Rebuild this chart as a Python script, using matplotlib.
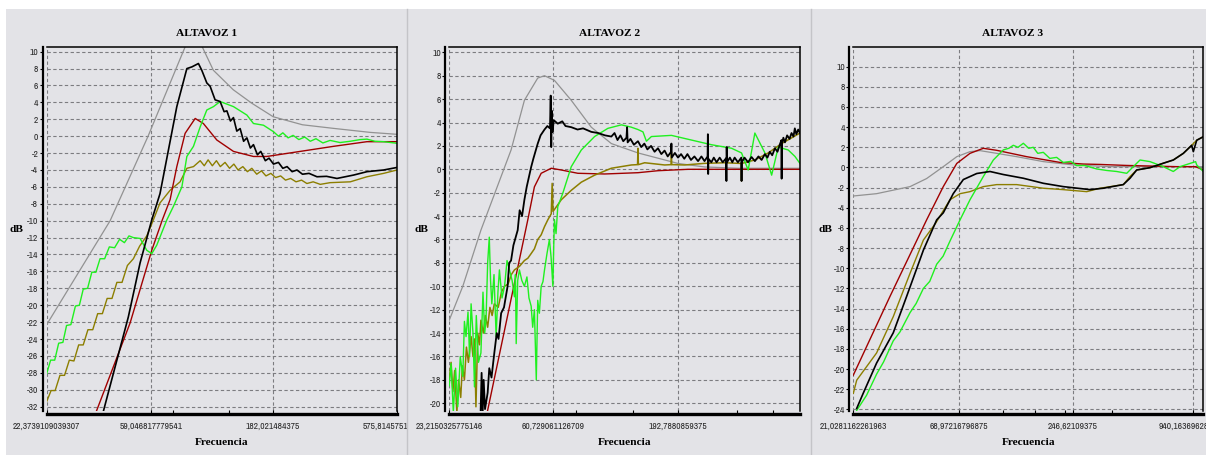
import numpy as np
import matplotlib
matplotlib.use("Agg")
import matplotlib.pyplot as plt
from matplotlib import font_manager
from matplotlib.lines import Line2D
from matplotlib.patches import Rectangle
from matplotlib.ticker import NullFormatter
from matplotlib.transforms import Bbox, TransformedBbox

# ---------------- datos ----------------
# ALTAVOZ 1
f1_gris = [22.37, 40.3, 57.3, 79.3, 86.2, 94.6, 105.0, 126.2, 150.0, 182.9, 240.0, 319.0, 450.0, 578.0]
db1_gris = [-22.3, -10.0, 0.0, 10.0, 12.5, 10.6, 7.8, 5.5, 3.9, 2.3, 1.35, 0.93, 0.45, 0.22]

f1_rojo = [35.0, 48.5, 59.3, 65.4, 70.3, 74.8, 80.8, 88.7, 95.7, 108.4, 126.5, 152.3, 172.4, 234.9, 320.1, 436.4, 576.7]
db1_rojo = [-33.0, -22.1, -13.5, -9.9, -7.5, -3.6, 0.34, 2.1, 1.5, -0.45, -1.8, -2.4, -2.4, -1.8, -1.2, -0.65, -0.65]

f1_verde = [22.37, 23.2, 24.1, 25.0, 26.0, 26.9, 28.0, 29.2, 30.3, 31.4, 32.7, 34.0, 35.3, 36.7, 38.3,
            40.0, 42.0, 44.0, 46.0, 48.0, 50.0, 53.2, 56.6, 59.3, 62.1, 68.2, 72.5, 78.4, 82.1, 87.3,
            92.9, 98.8, 105.1, 111.8, 126.5, 143.3, 152.3, 167.1, 183.4, 192.0, 200.0, 210.0, 220.0,
            232.0, 245.0, 258.0, 272.0, 290.0, 310.0, 340.0, 373.8, 410.0, 436.4, 470.0, 509.0, 576.7]
db1_verde = [-28.1, -26.5, -26.5, -24.5, -24.4, -22.4, -22.3, -20.1, -20.0, -18.1, -18.0, -16.1, -16.1, -14.5, -14.5,
             -13.1, -13.2, -12.2, -12.6, -11.8, -12.0, -12.1, -13.5, -13.9, -12.9, -9.9, -8.3, -6.0, -2.4, -1.2,
             1.1, 3.1, 3.5, 4.1, 3.5, 2.5, 1.5, 1.3, 0.53, 0.0, 0.4, -0.2, 0.1,
             -0.4, -0.1, -0.6, -0.3, -0.8, -0.5, -0.75, -0.6, -0.4, -0.35, -0.6, -0.65, -0.84]

f1_oliva = [22.37, 23.3, 24.2, 25.3, 26.4, 27.6, 28.8, 30.1, 31.4, 32.8, 34.3, 35.9, 37.5, 39.2, 41.0,
            42.9, 45.0, 47.3, 50.0, 53.0, 56.6, 60.2, 64.0, 70.3, 77.1, 82.1, 87.3, 92.9, 96.5, 100.0,
            104.0, 108.0, 112.0, 117.0, 122.0, 127.0, 132.0, 138.0, 144.0, 150.0, 157.0, 164.0, 171.0,
            179.0, 187.0, 196.0, 205.0, 215.0, 226.0, 238.0, 250.0, 265.0, 283.0, 310.0, 373.8, 436.4,
            509.4, 576.7]
db1_oliva = [-31.4, -30.1, -30.1, -28.3, -28.3, -26.5, -26.6, -24.7, -24.7, -22.9, -22.9, -21.0, -21.0, -19.2, -19.2,
             -17.3, -17.3, -15.3, -14.5, -13.0, -11.8, -9.9, -7.9, -6.4, -5.4, -3.8, -3.6, -2.9, -3.5, -2.8,
             -3.5, -2.9, -3.6, -3.1, -3.8, -3.3, -4.0, -3.6, -4.2, -3.8, -4.5, -4.1, -4.7,
             -4.4, -4.9, -4.7, -5.2, -5.0, -5.4, -5.2, -5.6, -5.4, -5.7, -5.5, -5.4, -4.8,
             -4.4, -4.0]

f1_negro = [37.5, 42.2, 47.7, 53.2, 59.3, 64.0, 74.8, 82.1, 86.0, 91.4, 94.3, 98.8, 101.9, 106.7, 111.8,
            116.0, 119.0, 123.0, 126.5, 130.5, 134.6, 139.0, 143.3, 148.0, 152.3, 158.0, 163.0, 170.0,
            176.0, 183.4, 192.0, 200.0, 208.0, 218.0, 228.0, 240.0, 255.0, 274.5, 300.0, 330.4, 385.5,
            436.4, 509.4, 576.7]
db1_negro = [-33.0, -27.3, -21.4, -15.0, -9.9, -6.8, 3.5, 8.0, 8.2, 8.6, 7.8, 6.3, 5.9, 4.3, 4.1,
             2.9, 3.0, 1.8, 2.2, 0.6, 0.9, -0.6, -0.2, -1.4, -1.0, -2.2, -1.8, -2.9,
             -2.6, -3.3, -3.1, -3.8, -3.6, -4.2, -4.0, -4.5, -4.4, -4.8, -4.75, -5.0, -4.6,
             -4.2, -4.0, -3.7]

# ALTAVOZ 2
f2_gris = [23.2, 26.3, 31.1, 41.1, 46.5, 52.6, 56.0, 61.4, 71.7, 86.3, 103.9, 132.9, 192.5, 246.5, 335.7, 594.8]
db2_gris = [-12.9, -10.0, -5.2, 1.65, 5.9, 7.8, 8.0, 7.6, 5.9, 3.6, 2.2, 1.4, 0.5, 0.2, 0.09, 0.09]

f2_rojo = [32.8, 48.0, 51.0, 54.3, 59.6, 65.4, 76.2, 97.6, 132.9, 159.9, 211.3, 594.8]
db2_rojo = [-21.0, -4.3, -1.5, -0.34, 0.09, -0.06, -0.34, -0.4, -0.29, -0.12, 0.0, 0.0]

f2_verde = [23.2, 23.6, 24.1, 24.6, 25.1, 25.7, 26.3, 26.7, 27.1, 27.6, 28.0, 28.4, 28.9, 29.3, 29.8,
            30.4, 31.1, 31.7, 32.2, 32.6, 33.1, 33.6, 34.0, 34.4, 35.1, 35.8, 36.4, 36.9, 37.8, 38.7,
            39.6, 40.5, 41.5, 42.4, 42.8, 43.1, 43.7, 44.4, 45.4, 46.5, 47.6, 48.5, 49.5, 50.2, 51.0,
            51.9, 52.6, 53.4, 54.3, 55.2, 56.0, 57.3, 58.6, 59.5, 60.5, 61.0, 61.4, 62.3, 63.3, 66.3,
            71.7, 78.7, 89.0, 100.6, 114.0, 125.0, 132.9, 139.2, 143.7, 150.5, 181.1, 218.0, 262.4,
            315.7, 346.4, 368.3, 391.8, 430.0, 457.6, 486.4, 533.5, 567.6, 594.8]
db2_verde = [-18.5, -16.6, -20.8, -17.0, -20.3, -16.0, -17.7, -13.0, -14.3, -12.2, -16.0, -11.5, -14.0, -18.6, -12.5,
             -16.5, -15.7, -10.5, -14.0, -12.9, -8.0, -5.8, -9.5, -11.5, -9.0, -14.3, -10.5, -8.6, -11.0, -10.0,
             -7.8, -8.6, -9.5, -10.9, -9.0, -14.9, -9.5, -8.6, -9.5, -10.0, -9.2, -11.0, -11.7, -13.5, -12.0,
             -18.0, -11.2, -12.3, -10.0, -9.6, -8.6, -7.2, -6.0, -7.5, -10.0, -6.5, -4.3, -5.5, -3.2, -2.05,
             0.22, 1.65, 2.8, 3.5, 3.8, 3.6, 3.4, 3.2, 2.4, 2.8, 2.9, 2.5, 2.1,
             1.8, 1.4, -0.06, 3.1, 1.4, -0.5, 1.9, 1.65, 1.1, 0.5]

f2_oliva = [23.2, 23.6, 24.0, 24.4, 24.9, 25.3, 25.8, 26.2, 26.7, 27.2, 27.7, 28.4, 28.9, 29.3, 29.7,
            30.2, 30.7, 31.1, 31.8, 32.4, 33.1, 33.8, 34.5, 35.2, 36.5, 37.6, 38.7, 40.0, 41.2, 42.4,
            44.4, 46.5, 48.0, 49.5, 51.0, 52.6, 54.3, 56.0, 57.8, 59.6, 60.1, 60.6, 62.5, 65.4, 71.7,
            78.7, 89.0, 103.9, 125.0, 132.4, 132.9, 133.4, 141.4, 170.2, 180.6, 181.1, 181.6, 204.9,
            246.5, 296.9, 345.7, 346.4, 347.1, 391.8, 443.4, 501.9, 594.8]
db2_oliva = [-18.0, -16.5, -19.0, -17.2, -20.8, -18.0, -19.5, -16.8, -18.0, -15.2, -16.5, -14.3, -16.0, -14.5, -20.3,
             -14.0, -15.0, -12.9, -14.0, -12.5, -13.5, -11.8, -12.5, -11.5, -11.8, -10.5, -10.0, -9.8, -9.0, -8.6,
             -8.3, -7.8, -7.6, -7.2, -6.8, -6.0, -5.6, -4.9, -4.3, -3.8, -1.2, -3.6, -3.2, -2.6, -1.8,
             -1.1, -0.5, 0.09, 0.37, 0.4, 1.8, 0.4, 0.56, 0.37, 0.4, 1.5, 0.4, 0.37,
             0.51, 0.56, 0.5, -1.0, 0.5, 0.8, 1.4, 2.2, 3.1]

f2_negro = [31.0, 31.3, 31.6, 31.9, 32.3, 33.1, 33.6, 34.3, 35.2, 36.0, 36.6, 37.5, 38.5, 39.8, 40.4,
            41.1, 42.0, 43.7, 44.5, 45.5, 46.5, 47.5, 49.5, 50.5, 52.6, 54.0, 56.0, 57.5, 58.9, 59.3,
            59.6, 59.9, 60.3, 61.0, 63.3, 66.0, 68.0, 71.7, 76.0, 80.0, 86.3, 92.0, 98.0, 103.9, 107.0,
            110.0, 113.0, 116.0, 119.5, 120.2, 120.8, 124.0, 128.0, 132.9, 137.0, 141.0, 145.0, 150.0,
            155.0, 159.9, 165.0, 170.0, 175.0, 180.6, 181.1, 181.6, 187.0, 192.5, 198.0, 204.0, 210.0,
            217.0, 224.0, 231.7, 239.0, 246.0, 253.0, 253.7, 254.4, 255.1, 262.0, 268.0, 275.0, 283.0,
            291.0, 300.5, 301.2, 301.9, 302.6, 311.0, 318.0, 325.0, 335.0, 345.7, 346.4, 347.1, 356.0,
            368.0, 380.0, 392.0, 405.0, 417.0, 430.0, 440.0, 450.0, 460.0, 471.7, 483.0, 495.0, 501.2,
            501.9, 502.6, 510.0, 517.5, 528.0, 540.0, 550.0, 560.0, 567.0, 575.0, 585.0, 594.8]
db2_negro = [-20.9, -17.4, -20.9, -18.0, -20.5, -19.1, -17.0, -17.8, -15.7, -14.0, -14.5, -12.3, -11.8, -10.0, -8.0,
             -7.8, -6.5, -5.2, -3.5, -4.0, -2.6, -1.5, 0.2, 0.9, 2.2, 2.9, 3.4, 3.7, 3.5, 6.3,
             1.9, 5.0, 3.2, 4.2, 3.9, 4.1, 3.7, 3.6, 3.4, 3.5, 3.2, 3.1, 2.9, 2.8, 3.1,
             2.5, 2.9, 2.4, 2.7, 3.6, 2.3, 2.6, 2.1, 2.4, 1.9, 2.2, 1.7, 2.0,
             1.5, 1.8, 1.3, 1.6, 1.1, 1.5, 2.2, 1.0, 1.4, 1.0, 1.3, 0.9, 1.3,
             0.8, 1.1, 0.7, 1.1, 0.7, 1.1, 3.0, -0.4, 0.9, 0.6, 1.0, 0.6, 1.0,
             0.6, 0.95, -1.0, 1.9, 0.6, 1.0, 0.6, 1.0, 0.6, 1.0, -1.0, 0.6, 1.0,
             0.6, 1.05, 0.7, 1.1, 0.8, 1.3, 1.0, 1.5, 1.2, 1.8, 1.5, 2.2, 2.5,
             -0.8, 2.1, 2.7, 2.3, 2.9, 2.6, 3.1, 2.8, 3.5, 3.0, 3.4, 3.1]

# ALTAVOZ 3
f3_gris = [21.03, 27.3, 39.7, 47.8, 57.6, 67.0, 77.7, 86.9, 104.8, 131.0, 176.6, 247.1, 372.6, 1059.8]
db3_gris = [-2.83, -2.6, -1.9, -1.1, 0.08, 1.07, 1.57, 1.67, 1.4, 1.07, 0.58, 0.25, 0.08, 0.08]

f3_rojo = [21.03, 31.7, 47.8, 57.6, 67.0, 77.7, 90.2, 104.8, 146.6, 212.9, 276.4, 333.3, 449.4, 786.6, 972.1, 1059.8]
db3_rojo = [-20.6, -12.8, -5.2, -1.9, 0.4, 1.4, 1.9, 1.7, 1.07, 0.5, 0.34, 0.3, 0.2, 0.08, 0.08, -0.25]

f3_oliva = [21.03, 21.85, 27.3, 32.9, 39.7, 46.1, 53.0, 62.1, 69.5, 77.7, 90.2, 104.8, 131.0, 176.6,
            220.8, 287.1, 333.3, 432.5, 466.2, 502.6, 583.3, 677.1, 757.2, 847.2, 930.5, 984.1, 1059.8]
db3_oliva = [-22.4, -21.1, -18.4, -14.8, -10.5, -7.2, -5.5, -3.2, -2.6, -2.4, -1.9, -1.7, -1.7, -2.06,
             -2.2, -2.4, -2.06, -1.7, -0.9, -0.25, -0.02, 0.42, 0.74, 1.4, 2.2, 2.7, 3.05]

f3_verde = [21.85, 24.4, 27.3, 29.5, 32.9, 35.5, 39.7, 42.5, 46.1, 49.5, 53.5, 57.5, 62.1, 69.5, 77.7,
            90.2, 100.9, 112.8, 120.0, 126.2, 133.0, 141.2, 150.0, 157.8, 166.0, 176.6, 190.0, 205.0,
            220.8, 240.0, 256.7, 280.0, 321.3, 360.0, 401.7, 449.4, 483.9, 521.5, 583.3, 677.1, 757.2,
            816.3, 972.1, 984.1, 1059.8]
db3_verde = [-24.1, -22.6, -20.5, -19.3, -17.2, -16.3, -14.4, -13.5, -12.0, -11.3, -9.6, -8.8, -7.3, -5.2, -3.2,
             -0.9, 0.74, 1.74, 1.9, 2.2, 2.0, 2.4, 1.9, 2.0, 1.4, 1.5, 0.9, 1.0,
             0.5, 0.6, 0.18, 0.2, -0.15, -0.3, -0.4, -0.58, 0.08, 0.74, 0.58, 0.08, -0.4,
             0.08, 0.58, 0.25, -0.4]

f3_negro = [21.85, 23.5, 27.3, 32.9, 38.2, 46.1, 53.5, 57.6, 64.4, 72.1, 83.8, 97.2, 112.8, 141.2,
            176.6, 220.8, 297.9, 345.7, 432.5, 466.2, 502.6, 583.3, 677.1, 757.2, 847.2, 930.5, 947.5,
            984.1, 1059.8]
db3_negro = [-23.9, -22.4, -19.4, -16.4, -12.8, -8.2, -5.2, -4.5, -2.6, -1.2, -0.6, -0.4, -0.7, -1.07,
             -1.57, -1.9, -2.2, -2.06, -1.7, -1.07, -0.25, -0.02, 0.42, 0.74, 1.4, 2.2, 1.57,
             2.7, 3.05]

# ejes y etiquetas
titulos = ['ALTAVOZ 1', 'ALTAVOZ 2', 'ALTAVOZ 3']
xlims = [(22.3739109039307, 576.7), (23.2150325775146, 594.8), (21.0281162261963, 1056.0)]
ylims = [(-32.52, 10.59), (-20.66, 10.48), (-24.16, 11.98)]
xticks = [[22.3739109039307, 59.046817779541, 182.021484375, 575.8145751953],
          [23.2150325775146, 60.729061126709, 192.7880859375],
          [21.0281162261963, 68.97216796875, 246.62109375, 940.163696289063]]
xticklabels = [['22,3739109039307', '59,046817779541', '182,021484375', '575,814575195313'],
               ['23,2150325775146', '60,729061126709', '192,7880859375'],
               ['21,0281162261963', '68,97216796875', '246,62109375', '940,163696289063']]
xminor = [[72.5, 121.9], [75.1, 126.9, 330.8, 464.3], [112.8, 160.9, 225.2, 380.0]]
yticks = [list(range(-32, 11, 2)), list(range(-20, 11, 2)), list(range(-24, 11, 2))]

curvas = [
    [(f1_gris, db1_gris), (f1_oliva, db1_oliva), (f1_rojo, db1_rojo), (f1_verde, db1_verde), (f1_negro, db1_negro)],
    [(f2_gris, db2_gris), (f2_rojo, db2_rojo), (f2_oliva, db2_oliva), (f2_verde, db2_verde), (f2_negro, db2_negro)],
    [(f3_gris, db3_gris), (f3_oliva, db3_oliva), (f3_rojo, db3_rojo), (f3_verde, db3_verde), (f3_negro, db3_negro)],
]

# ---------------- estilo ----------------
W, H = 1206, 455
FONDO = '#e3e3e7'
GRIS = '#929292'
ROJO = '#a00000'
VERDE = '#1ff01f'
OLIVA = '#8c7e00'
NEGRO = '#000000'

# fuente estrecha para los numeros, si hay alguna instalada
nombres = sorted({f.name for f in font_manager.fontManager.ttflist})
estrechas = [n for n in nombres if 'Narrow' in n or 'Condensed' in n]
condensadas = sorted({f.name for f in font_manager.fontManager.ttflist
                      if str(f.stretch) in ('condensed', 'semi-condensed', '75', '87')})
if estrechas:
    fuente_num = [estrechas[0], 'Liberation Sans', 'DejaVu Sans']
    estiramiento = 'normal'
    tam_num = 6.8
elif condensadas:
    fuente_num = [condensadas[0], 'DejaVu Sans']
    estiramiento = 'condensed'
    tam_num = 6.6
else:
    fuente_num = ['Liberation Sans', 'DejaVu Sans']
    estiramiento = 'normal'
    tam_num = 5.6
fuente_tit = ['Liberation Serif', 'DejaVu Serif']

fig = plt.figure(figsize=(W / 100, H / 100), dpi=100)
fig.patch.set_facecolor('white')
fig.patches.append(Rectangle((6 / W, 0), 1 - 6 / W, 1 - 9 / H, transform=fig.transFigure,
                             facecolor=FONDO, edgecolor='none', zorder=-10))
for xs in (406.5, 810.5):
    fig.add_artist(Line2D([xs / W, xs / W], [0, 1 - 9 / H], transform=fig.transFigure,
                          color='#c4c4c8', lw=1))

# posiciones de los paneles (pixeles)
cajas = [(46.7, 397.0), (449.3, 800.0), (853.3, 1203.0)]
centros_titulo = [206.7, 610.0, 1013.0]
x_db = [17.0, 421.7, 825.0]
top, bottom = 46.7, 411.0

for i in range(3):
    x0, x1 = cajas[i]
    ax = fig.add_axes([x0 / W, 1 - bottom / H, (x1 - x0) / W, (bottom - top) / H])
    ax.set_facecolor(FONDO)
    if i == 1:
        colores_panel = [GRIS, ROJO, OLIVA, VERDE, NEGRO]
        anchos = [0.9, 1.0, 1.1, 1.0, 1.3]
    else:
        colores_panel = [GRIS, OLIVA, ROJO, VERDE, NEGRO]
        anchos = [0.9, 1.0, 1.0, 1.0, 1.2]
    for k, (f, db) in enumerate(curvas[i]):
        ax.plot(f, db, color=colores_panel[k], lw=anchos[k])

    ax.set_xscale('log')
    ax.set_xlim(*xlims[i])
    ax.set_ylim(*ylims[i])
    ax.set_xticks(xticks[i], xticklabels[i])
    ax.set_xticks(xminor[i], minor=True)
    ax.xaxis.set_minor_formatter(NullFormatter())
    ax.set_yticks(yticks[i], [str(v) for v in yticks[i]])

    ax.grid(True, which='major', color='#7c7c80', ls=(0, (3, 2.2)), lw=0.8)
    ax.spines['top'].set_linewidth(1.1)
    ax.spines['right'].set_linewidth(1.1)
    ax.spines['left'].set_position(('outward', 3))
    ax.spines['left'].set_linewidth(1.6)
    ax.spines['bottom'].set_position(('outward', 2))
    ax.spines['bottom'].set_linewidth(2.4)
    ax.tick_params(axis='y', length=2.2, width=0.8, pad=0.8, labelsize=tam_num, labelcolor='#2a2a2a')
    ax.tick_params(axis='x', which='both', direction='in', length=3, width=0.8, pad=6,
                   labelsize=tam_num, labelcolor='#2a2a2a')
    for lab in ax.get_xticklabels() + ax.get_yticklabels():
        lab.set_family(fuente_num)
        lab.set_stretch(estiramiento)

    # la ultima etiqueta del panel 1 queda cortada por el panel 2
    if i == 0:
        lab = ax.get_xticklabels()[-1]
        lab.set_clip_on(True)
        lab.set_clip_box(TransformedBbox(Bbox([[0, 0], [407 / W, 1]]), fig.transFigure))

    fig.text(centros_titulo[i] / W, 1 - 34 / H, titulos[i], ha='center', va='center',
             family=fuente_tit, weight='bold', fontsize=8.2)
    fig.text((x0 + x1) / 2 / W, 1 - 442.7 / H, 'Frecuencia', ha='center', va='center',
             family=fuente_tit, weight='bold', fontsize=8.2)
    fig.text(x_db[i] / W, 1 - 229.3 / H, 'dB', ha='center', va='center',
             family=fuente_tit, weight='bold', fontsize=8.2)

fig.savefig('out.png', dpi=100)
